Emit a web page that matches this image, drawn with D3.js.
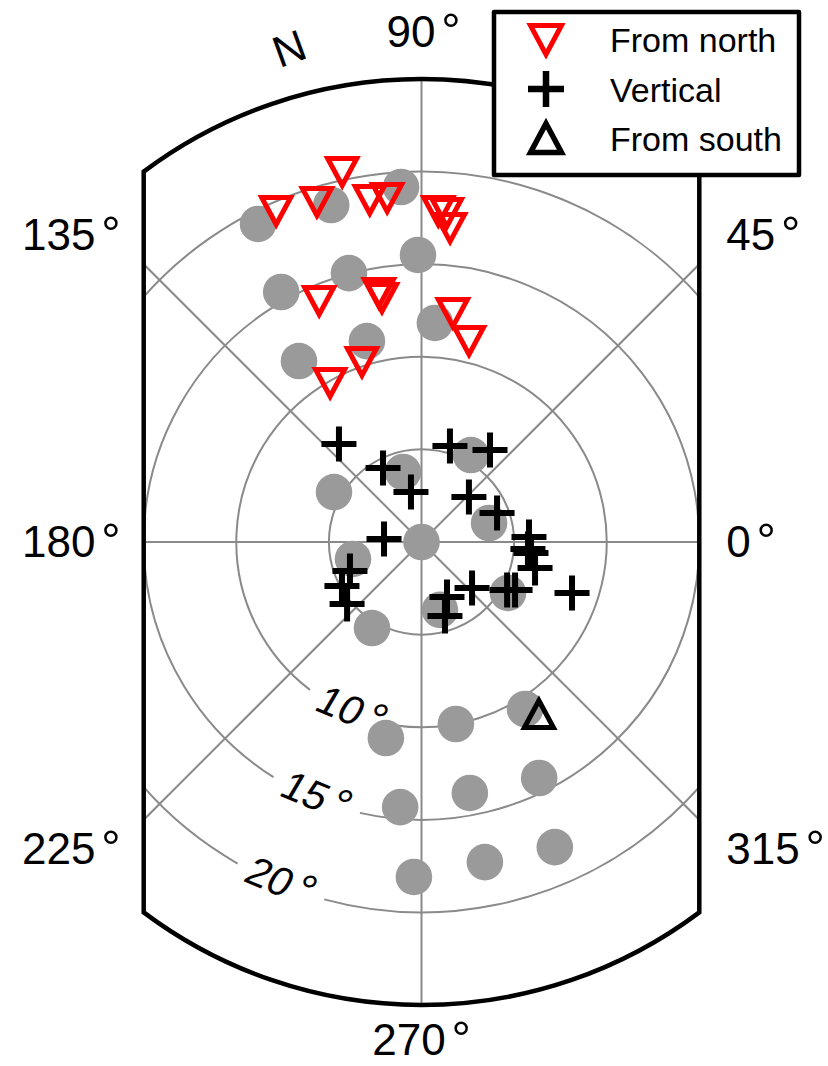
<!DOCTYPE html>
<html>
<head>
<meta charset="utf-8">
<script src="https://cdn.jsdelivr.net/npm/d3@7"></script>
<style>
  html, body { margin: 0; padding: 0; background: #fff; }
  svg { display: block; }
  text { font-family: "Liberation Sans", Arial, Helvetica, sans-serif; fill: #000; }
</style>
</head>
<body>
<svg id="chart" width="828" height="1066"></svg>
<script>
// Each point: [azimuth in degrees (counter-clockwise from east), angular distance in degrees]
const gridPoints = [
  [117.2, 19.31], [105.0, 18.84], [93.3, 19.20],
  [119.3, 15.48], [105.1, 15.04], [90.7, 15.50],
  [124.1, 11.80], [105.2, 11.24], [86.5, 11.85],
  [150.3, 5.44], [104.8, 3.91], [60.4, 5.40],
  [193.9, 3.81], [0, 0], [15.7, 3.79],
  [240.1, 5.36], [285.2, 3.80], [329.5, 5.42],
  [259.7, 10.76], [280.7, 10.00], [301.8, 10.61],
  [265.4, 14.36], [280.9, 13.80], [296.5, 14.24],
  [268.7, 18.09], [281.2, 17.62], [293.6, 17.98]
];
const fromNorth = [
  [113.7, 19.52], [107.1, 19.21], [102.1, 20.43], [98.6, 18.68], [95.7, 18.67],
  [87.1, 17.89], [85.6, 17.82], [84.8, 17.02], [82.2, 12.48], [76.7, 11.15],
  [113.0, 14.14], [99.7, 13.64], [99.2, 13.35], [108.3, 10.24], [119.9, 9.90]
];
const vertical = [
  [130.1, 6.92], [117.5, 4.50], [101.9, 2.76], [73.5, 5.41], [53.3, 6.19],
  [43.5, 3.53], [21.0, 4.37], [175.4, 2.03], [2.7, 5.81], [356.2, 5.76],
  [354.3, 5.94], [347.1, 6.29], [330.7, 5.30], [332.8, 5.68], [341.3, 8.58],
  [317.7, 3.69], [294.9, 3.27], [287.6, 4.19], [202.1, 4.17], [209.0, 4.91],
  [219.8, 5.23]
];
const fromSouth = [[304.3, 11.25]];

const ringValues = [5, 10, 15, 20];
const ringLabelValues = [10, 15, 20];
const spokeAngles = [0, 45, 90, 135, 180, 225, 270, 315];
const angleTickLabels = ["0", "45", "90", "135", "180", "225", "270", "315"];
const legendLabels = ["From north", "Vertical", "From south"];
const maxDistance = 25;   // outer boundary circle
const halfWidth = 15;     // side boundaries at +/- 15 degrees
const ringLabelAzimuth = 247.5;

// ---- layout ----
const svg = d3.select("#chart");
const cx = 421.5, cy = 542;
const r = d3.scaleLinear().domain([0, maxDistance]).range([0, 463]);
const toRad = d => d * Math.PI / 180;
// azimuth (ccw from east) -> screen coordinates
function project(az, dist) {
  const [x, y] = d3.pointRadial(toRad(90 - az), r(dist));
  return [cx + x, cy + y];
}

const R = r(maxDistance);
const W = r(halfWidth);
const H = Math.sqrt(R * R - W * W);
const framePath = `M${cx - W},${cy - H} A${R},${R} 0 0 1 ${cx + W},${cy - H}` +
  ` L${cx + W},${cy + H} A${R},${R} 0 0 1 ${cx - W},${cy + H} Z`;

svg.append("defs").append("clipPath").attr("id", "plotClip")
  .append("path").attr("d", framePath);

const plot = svg.append("g").attr("clip-path", "url(#plotClip)");
const gridColor = "#8a8a8a";

// spokes every 45 degrees
plot.selectAll("line.spoke").data(spokeAngles).join("line")
  .attr("class", "spoke")
  .attr("x1", cx).attr("y1", cy)
  .attr("x2", d => project(d, 40)[0])
  .attr("y2", d => project(d, 40)[1])
  .attr("stroke", gridColor).attr("stroke-width", 2);

// distance rings, opened where a ring is labelled
plot.selectAll("path.ring").data(ringValues).join("path")
  .attr("class", "ring")
  .attr("fill", "none").attr("stroke", gridColor).attr("stroke-width", 2)
  .attr("d", v => {
    const rp = r(v);
    const p = d3.path();
    if (ringLabelValues.includes(v)) {
      const halfGap = (47 / rp) * 180 / Math.PI;
      const a1 = ringLabelAzimuth + halfGap;
      const a2 = ringLabelAzimuth - halfGap + 360;
      p.arc(cx, cy, rp, -toRad(a1), -toRad(a2), true);
    } else {
      p.moveTo(cx + rp, cy);
      p.arc(cx, cy, rp, 0, 2 * Math.PI);
    }
    return p.toString();
  });

// grey reference positions
plot.selectAll("circle.grid").data(gridPoints).join("circle")
  .attr("class", "grid")
  .attr("cx", d => project(d[0], d[1])[0])
  .attr("cy", d => project(d[0], d[1])[1])
  .attr("r", 18.3)
  .attr("fill", "#9a9a9a");

// text followed by a detached degree ring
function degreeText(sel, value) {
  sel.text(null);
  sel.append("tspan").text(value);
  sel.append("tspan").attr("dx", "0.12em").attr("font-size", "1.1em").text("°");
}

// ring labels, tangent to the rings
svg.selectAll("text.ringLabel").data(ringLabelValues).join("text")
  .attr("class", "ringLabel")
  .attr("transform", v => {
    const [x, y] = project(ringLabelAzimuth, v - 0.2);
    return `translate(${x},${y}) rotate(${270 - ringLabelAzimuth}) skewX(-8)`;
  })
  .attr("text-anchor", "middle")
  .attr("y", "0.36em")
  .attr("font-size", 41)
  .each(function (v) { degreeText(d3.select(this), v); });

// frame
svg.append("path").attr("d", framePath)
  .attr("fill", "none").attr("stroke", "#000").attr("stroke-width", 4.5)
  .attr("stroke-linejoin", "miter");

// symbol shapes
const triDown = (s, h) => `M${-s},${-h / 2} L${s},${-h / 2} L0,${h / 2} Z`;
const triUp = (s, h) => `M${-s},${h / 2} L${s},${h / 2} L0,${-h / 2} Z`;
const plus = a => `M${-a},0 H${a} M0,${-a} V${a}`;

// vertical arrivals
svg.append("g").selectAll("path").data(vertical).join("path")
  .attr("transform", d => `translate(${project(d[0], d[1])})`)
  .attr("d", plus(17.5))
  .attr("stroke", "#000").attr("stroke-width", 6).attr("fill", "none");

// arrivals from north
svg.append("g").selectAll("path").data(fromNorth).join("path")
  .attr("transform", d => `translate(${project(d[0], d[1])})`)
  .attr("d", triDown(14.5, 27))
  .attr("stroke", "#ff0000").attr("stroke-width", 5).attr("fill", "none")
  .attr("stroke-linejoin", "miter").attr("stroke-miterlimit", 10);

// arrivals from south
svg.append("g").selectAll("path").data(fromSouth).join("path")
  .attr("transform", d => `translate(${project(d[0], d[1])})`)
  .attr("d", triUp(14.5, 27))
  .attr("stroke", "#000").attr("stroke-width", 5).attr("fill", "none")
  .attr("stroke-linejoin", "miter").attr("stroke-miterlimit", 10);

// azimuth labels around the frame
const tickPos = {
  0:   { x: cx + W + 27, y: cy + 15,  anchor: "start" },
  45:  { x: cx + W + 27, y: cy - 292, anchor: "start" },
  90:  { x: cx + 2,      y: cy - R - 32, anchor: "middle" },
  135: { x: cx - W - 23, y: cy - 292, anchor: "end" },
  180: { x: cx - W - 23, y: cy + 15,  anchor: "end" },
  225: { x: cx - W - 23, y: cy + 322, anchor: "end" },
  270: { x: cx,          y: cy + R + 50, anchor: "middle" },
  315: { x: cx + W + 27, y: cy + 322, anchor: "start" }
};
svg.selectAll("text.tick").data(spokeAngles).join("text")
  .attr("class", "tick")
  .attr("x", d => tickPos[d].x)
  .attr("y", d => tickPos[d].y)
  .attr("text-anchor", d => tickPos[d].anchor)
  .attr("font-size", 44)
  .each(function (d, i) { degreeText(d3.select(this), angleTickLabels[i]); });

svg.append("text")
  .attr("transform", "translate(289,48) rotate(-20)")
  .attr("text-anchor", "middle")
  .attr("dy", "0.36em")
  .attr("font-size", 44)
  .text("N");

// legend
const legend = svg.append("g");
legend.append("rect")
  .attr("x", 494).attr("y", 12).attr("width", 305).attr("height", 163)
  .attr("fill", "#fff").attr("stroke", "#000").attr("stroke-width", 4.5)
  .attr("stroke-linejoin", "round");
const legendRows = [
  { d: triDown(15.5, 29), stroke: "#ff0000", width: 5 },
  { d: plus(18), stroke: "#000", width: 6.5 },
  { d: triUp(15.5, 29), stroke: "#000", width: 5.5 }
];
legend.selectAll("path").data(legendRows).join("path")
  .attr("transform", (d, i) => `translate(546,${40 + i * 49})`)
  .attr("d", d => d.d)
  .attr("stroke", d => d.stroke).attr("stroke-width", d => d.width)
  .attr("fill", "none").attr("stroke-linejoin", "miter").attr("stroke-miterlimit", 10);
legend.selectAll("text").data(legendLabels).join("text")
  .attr("x", 610)
  .attr("y", (d, i) => 52 + i * 49.5)
  .attr("font-size", 34)
  .text(d => d);
</script>
</body>
</html>
